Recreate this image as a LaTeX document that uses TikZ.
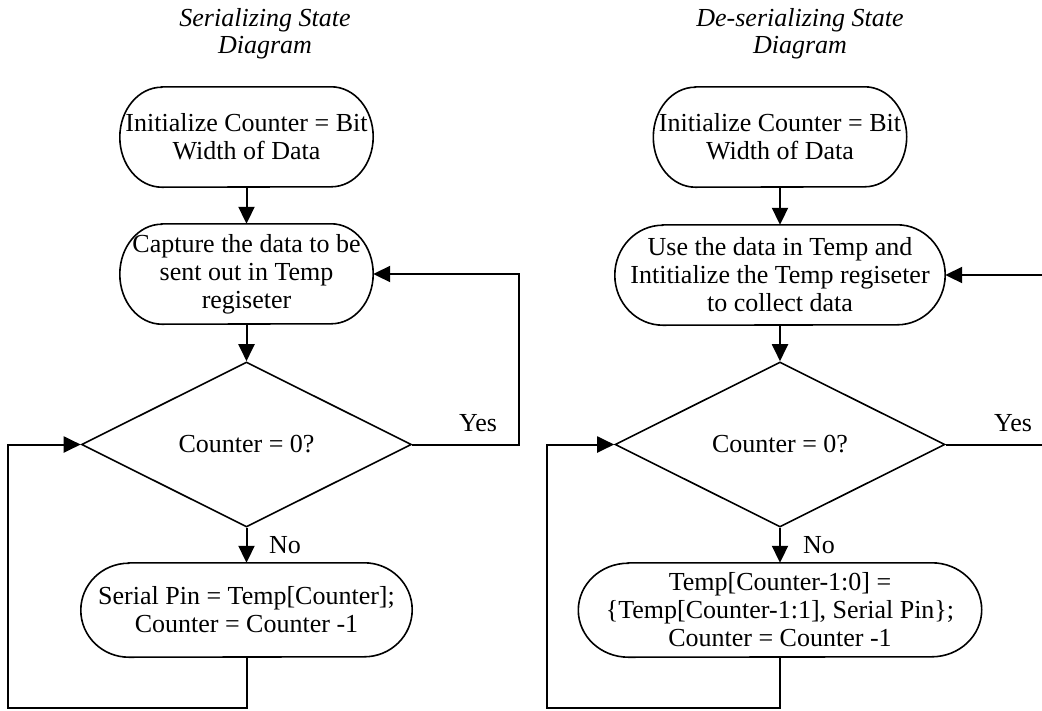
\documentclass[tikz,border=0pt]{standalone}
\usepackage{fontspec}
\setmainfont{Liberation Serif}
\usetikzlibrary{shapes.geometric,arrows.meta}
\tikzset{
 txt/.style={font=\fontsize{26}{28}\selectfont, align=center},
 term/.style={txt, rectangle, inner sep=0pt, draw=none},
 dec/.style={txt, diamond, draw, line width=1.6pt, inner sep=0pt, minimum width=330pt, minimum height=165pt},
 outline/.style={line width=1.6pt},
 conn/.style={line width=2pt},
 arr/.style={conn, -{Triangle[length=17pt,width=16pt]}},
 titletxt/.style={font=\fontsize{26}{27}\selectfont\itshape, align=center},
 lab/.style={font=\fontsize{26}{28}\selectfont},
}
\newcommand\termline[3]{%
 \draw[outline] ([xshift=#2pt]#1.north west) -- ([xshift=-#2pt]#1.north east)
 arc[start angle=90,end angle=-90,x radius=#2pt,y radius=#3pt]
 -- ([xshift=#2pt]#1.south west)
 arc[start angle=270,end angle=90,x radius=#2pt,y radius=#3pt] -- cycle;}
\begin{document}
\begin{tikzpicture}[x=1pt,y=-1pt]
\useasboundingbox (0,0) rectangle (1042,710);
% titles
\node[titletxt] (TL) at (265,34) {Serializing State\\Diagram};
\node[titletxt] (TR) at (800,34) {De-serializing State\\Diagram};
% left column
\node[term, minimum width=253pt, minimum height=100pt] (L1) at (246.5,137) {Initialize Counter = Bit\\Width of Data};
\node[term, minimum width=253pt, minimum height=100pt] (L2) at (246.5,274) {Capture the data to be\\sent out in Temp\\regiseter};
\node[dec] (L3) at (246.5,444.5) {Counter = 0?};
\node[term, minimum width=331pt, minimum height=94pt] (L4) at (246.5,610) {Serial Pin = Temp[Counter];\\Counter = Counter -1};
\termline{L1}{42}{50}
\termline{L2}{42}{50}
\termline{L4}{48}{47}
\draw[arr] (L1.south) -- (L2.north);
\draw[arr] (L2.south) -- (L3.north);
\draw[arr] (L3.south) -- (L4.north);
\node[lab] (NoL) at (285,545) {No};
\node[lab] (YesL) at (478,423) {Yes};
\coordinate (LY) at (519,274);
\draw[arr] (L3.east) -| (LY) -- (L2.east);
\coordinate (LB) at (8,708);
\draw[arr] (L4.south) |- (LB) |- (L3.west);
% right column
\node[term, minimum width=253pt, minimum height=100pt] (R1) at (780,137) {Initialize Counter = Bit\\Width of Data};
\node[term, minimum width=330pt, minimum height=100pt] (R2) at (780,275) {Use the data in Temp and\\Intitialize the Temp regiseter\\to collect data};
\node[dec] (R3) at (780,444.5) {Counter = 0?};
\node[term, minimum width=403pt, minimum height=94pt] (R4) at (780,610) {Temp[Counter-1:0] =\\\{Temp[Counter-1:1], Serial Pin\};\\Counter = Counter -1};
\termline{R1}{42}{50}
\termline{R2}{48}{50}
\termline{R4}{50}{47}
\draw[arr] (R1.south) -- (R2.north);
\draw[arr] (R2.south) -- (R3.north);
\draw[arr] (R3.south) -- (R4.north);
\node[lab] (NoR) at (819,545) {No};
\node[lab] (YesR) at (1013,423) {Yes};
\coordinate (RY) at (1060,275);
\draw[arr] (R3.east) -| (RY) -- (R2.east);
\coordinate (RB) at (547,708);
\draw[arr] (R4.south) |- (RB) |- (R3.west);
\end{tikzpicture}
\end{document}
